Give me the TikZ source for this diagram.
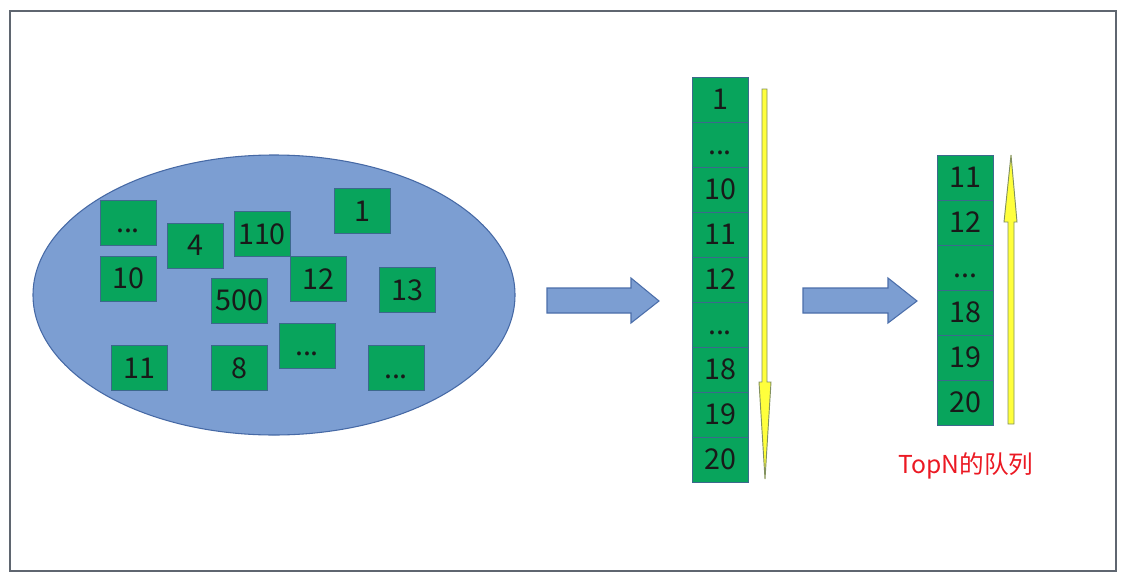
\documentclass[tikz,border=0pt]{standalone}
\usepackage{fontspec}
\setmainfont{Noto Sans CJK SC}
\definecolor{gfill}{RGB}{8,164,92}
\definecolor{gline}{RGB}{60,105,140}
\definecolor{efill}{RGB}{124,158,210}
\definecolor{eline}{RGB}{70,105,165}
\definecolor{afill}{RGB}{124,158,210}
\definecolor{aline}{RGB}{75,110,170}
\definecolor{yfill}{RGB}{255,255,60}
\definecolor{yline}{RGB}{130,145,95}
\definecolor{frame}{RGB}{95,102,112}
\definecolor{redtxt}{RGB}{235,25,35}
\begin{document}
\begin{tikzpicture}[x=0.75pt,y=-0.75pt,
  gbox/.style={draw=gline,line width=0.6pt,fill=gfill,minimum width=42pt,minimum height=33.75pt,inner sep=0pt,font=\fontsize{21.5}{23}\selectfont,text=black!90,text height=15.6pt,text depth=0pt},
  cell/.style={gbox},
  blockarrow/.style={draw=aline,fill=afill,line width=0.8pt,line join=miter},
  yarrow/.style={draw=yline,fill=yfill,line width=0.7pt,line join=miter}]
\useasboundingbox (0,0) rectangle (1127,578);
\draw[frame,line width=1.6pt] (10,11) rectangle (1116,571);
% ellipse
\fill[efill,draw=eline,line width=0.8pt] (274,295) ellipse [x radius=241,y radius=140];
% boxes in ellipse
\node[gbox] (a1) at (128,222.5) {...};
\node[gbox] (a2) at (195,245.5) {4};
\node[gbox] (a3) at (262,234) {110};
\node[gbox] (a4) at (362.5,211) {1};
\node[gbox] (a5) at (128,278.5) {10};
\node[gbox] (a6) at (318,279) {12};
\node[gbox] (a7) at (239.5,300.5) {500};
\node[gbox] (a8) at (407,290) {13};
\node[gbox] (a9) at (139,368) {11};
\node[gbox] (a10) at (239.5,368) {8};
\node[gbox] (a11) at (307,345.5) {...};
\node[gbox] (a12) at (396,368) {...};
% middle column
\node[cell] (m1) at (720,99.5) {1};
\node[cell] (m2) at (720,144.5) {...};
\node[cell] (m3) at (720,189.5) {10};
\node[cell] (m4) at (720,234.5) {11};
\node[cell] (m5) at (720,279.5) {12};
\node[cell] (m6) at (720,324.5) {...};
\node[cell] (m7) at (720,369.5) {18};
\node[cell] (m8) at (720,414.5) {19};
\node[cell] (m9) at (720,459.5) {20};
% right column
\node[cell] (r1) at (965.5,177.5) {11};
\node[cell] (r2) at (965.5,222.5) {12};
\node[cell] (r3) at (965.5,267.5) {...};
\node[cell] (r4) at (965.5,312.5) {18};
\node[cell] (r5) at (965.5,357.5) {19};
\node[cell] (r6) at (965.5,402.5) {20};
% blue block arrows
\draw[blockarrow] (547,288) -- (631,288) -- (631,278) -- (659,301) -- (631,323) -- (631,313) -- (547,313) -- cycle;
\draw[blockarrow] (803,288) -- (888,288) -- (888,278) -- (917,301) -- (888,323) -- (888,313) -- (803,313) -- cycle;
% yellow arrows
\draw[yarrow] (762,89) -- (767,89) -- (767,382) -- (771,382) -- (765,479) -- (759,382) -- (762,382) -- cycle;
\draw[yarrow] (1008,424) -- (1014,424) -- (1014,222) -- (1017,222) -- (1011,155) -- (1004,222) -- (1008,222) -- cycle;
% label
\node[text=redtxt,font=\fontsize{18.5}{20}\selectfont,inner sep=0pt] (lbl) at (966,466) {TopN的队列};
\end{tikzpicture}
\end{document}
